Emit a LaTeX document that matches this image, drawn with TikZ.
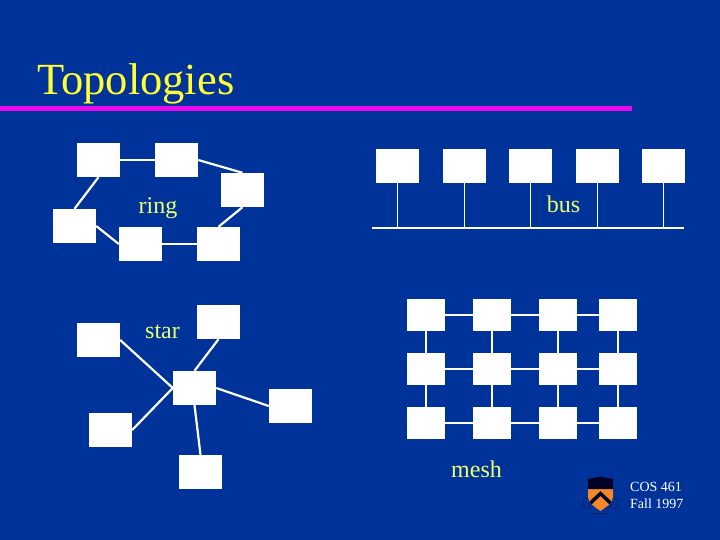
\documentclass[tikz,border=0pt]{standalone}
\usepackage{fontspec}
\setmainfont{Liberation Serif}
\usetikzlibrary{calc, positioning, matrix}
\definecolor{slidebg}{RGB}{0,51,153}
\definecolor{titlecol}{RGB}{255,255,51}
\definecolor{labelcol}{RGB}{235,255,110}
\definecolor{rulecol}{RGB}{235,10,235}
\definecolor{shieldcol}{RGB}{245,135,40}
\definecolor{crestcol}{RGB}{8,30,90}
\tikzset{
  host/.style={fill=white, inner sep=0pt, minimum width=43pt, minimum height=34pt},
  meshhost/.style={fill=white, inner sep=0pt, minimum width=38pt, minimum height=32pt},
  link/.style={draw=white, line width=2.2pt},
  thin link/.style={draw=white, line width=1.7pt},
  topo/.style={text=labelcol, font=\fontsize{24}{26}\selectfont, inner sep=0pt},
}

\begin{document}
\begin{tikzpicture}[x=1pt, y=-1pt]
  \fill[slidebg] (0,0) rectangle (720,540);
  \useasboundingbox (0,0) rectangle (720,540);

  % title
  \node[text=titlecol, font=\fontsize{44.5}{46}\selectfont, inner sep=0pt, anchor=base west] (title) at (37,95) {Topologies};
  \coordinate (ruleL) at (0,108.5);
  \coordinate (ruleR) at (632,108.5);
  \draw[rulecol, line width=5pt] (ruleL) -- (ruleR);

  % ring
  \node[host] (RA) at (98.5,160) {};
  \node[host] (RB) at (176.5,160) {};
  \node[host] (RC) at (242.5,190) {};
  \node[host] (RD) at (218.5,244) {};
  \node[host] (RE) at (140.5,244) {};
  \node[host] (RF) at (74.5,226) {};
  \node[topo, anchor=base] (ring) at (158,214) {ring};
  \draw[link] (RA) -- (RB);
  \draw[link] (RB.east) -- (RC.north);
  \draw[link] (RC.south) -- (RD.north);
  \draw[link] (RD) -- (RE);
  \draw[link] (RE.west) -- (RF.east);
  \draw[link] (RF.north) -- (RA.south);

  % star
  \node[host] (hub) at (194.5,388) {};
  \node[host] (SA) at (98.5,340) {};
  \node[host] (SB) at (218.5,322) {};
  \node[host] (SC) at (290.5,406) {};
  \node[host] (SD) at (200.5,472) {};
  \node[host] (SE) at (110.5,430) {};
  \node[topo, anchor=base] (star) at (162.5,338) {star};
  \draw[link] (hub.west) -- (SA.east);
  \draw[link] (hub.north) -- (SB.south);
  \draw[link] (hub.east) -- (SC.west);
  \draw[link] (hub.south) -- (SD.north);
  \draw[link] (hub.west) -- (SE.east);

  % bus
  \node[host] (B1) at (397.5,166) {};
  \node[host] (B2) at (464.5,166) {};
  \node[host] (B3) at (530.5,166) {};
  \node[host] (B4) at (597.5,166) {};
  \node[host] (B5) at (663.5,166) {};
  \coordinate (busL) at (372,228);
  \coordinate (busR) at (684,228);
  \node[topo, anchor=base] (bus) at (563.5,213) {bus};
  \draw[thin link] (busL) -- (busR);
  \draw[thin link] (B1.south) -- (B1.south |- busL);
  \draw[thin link] (B2.south) -- (B2.south |- busL);
  \draw[thin link] (B3.south) -- (B3.south |- busL);
  \draw[thin link] (B4.south) -- (B4.south |- busL);
  \draw[thin link] (B5.south) -- (B5.south |- busL);

  % mesh
  \matrix[column sep={66pt,between origins}, row sep={54pt,between origins}, inner sep=0pt, nodes={meshhost}] at (522,369) {
    \node(M11) {}; & \node(M12) {}; & \node(M13) {}; &[-6pt] \node(M14) {}; \\
    \node(M21) {}; & \node(M22) {}; & \node(M23) {}; &[-6pt] \node(M24) {}; \\
    \node(M31) {}; & \node(M32) {}; & \node(M33) {}; &[-6pt] \node(M34) {}; \\
  };
  \node[topo, anchor=base] (mesh) at (476.5,477) {mesh};

  \draw[thin link] (M11) -- (M12) -- (M13) -- (M14);
  \draw[thin link] (M21) -- (M22) -- (M23) -- (M24);
  \draw[thin link] (M31) -- (M32) -- (M33) -- (M34);
  \draw[thin link] (M11) -- (M21) -- (M31);
  \draw[thin link] (M12) -- (M22) -- (M32);
  \draw[thin link] (M13) -- (M23) -- (M33);
  \draw[thin link] (M14) -- (M24) -- (M34);

  % crest
  \draw[crestcol, line width=.6pt] (588,498) .. controls (582,497) and (581,506) .. (585,508) .. controls (589,511) and (592,505) .. (589,504);
  \draw[crestcol, line width=.6pt] (613,498) .. controls (619,497) and (620,506) .. (616,508) .. controls (612,511) and (609,505) .. (612,504);
  \draw[crestcol, line width=.6pt] (590,512.5) .. controls (595,514) and (606,514) .. (611,512.5);
  \fill[shieldcol] (588,486) -- (613,486) -- (613,497) .. controls (613,503) and (606,507) .. (600.5,511) .. controls (595,507) and (588,503) .. (588,497) -- cycle;
  \fill[black!85!blue] (588,479) -- (600.5,476.5) -- (613,479) -- (613,489) -- (588,489) -- cycle;
  \draw[black!85!blue, line width=3.5pt] (590.5,503) -- (600.5,493.5) -- (610.5,503);

  % footer
  \node[text=white, font=\fontsize{14}{17}\selectfont, align=left, inner sep=0pt, anchor=north west] (footer) at (630,482.5) {COS 461\\Fall 1997};
\end{tikzpicture}
\end{document}
